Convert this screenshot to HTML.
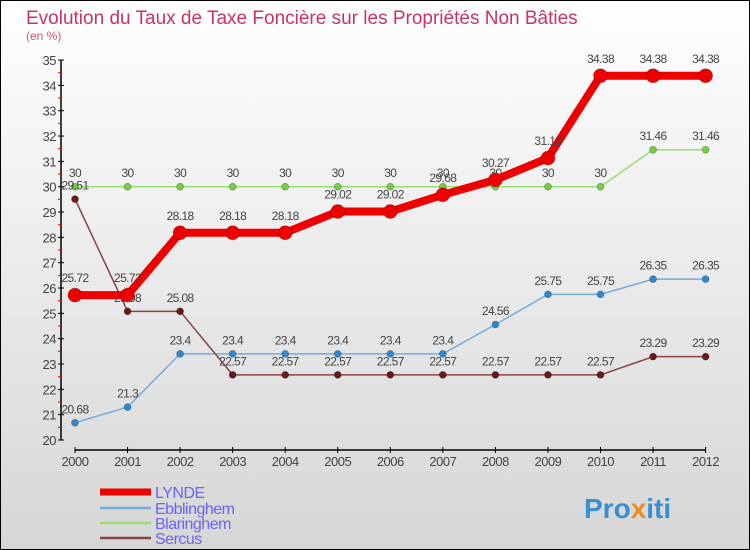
<!DOCTYPE html>
<html><head><meta charset="utf-8"><style>
html,body{margin:0;padding:0}
body{width:750px;height:550px;overflow:hidden;font-family:"Liberation Sans",sans-serif}
</style></head><body>
<svg id="chart" width="750" height="550" xmlns="http://www.w3.org/2000/svg" style="display:block">
<defs>
<linearGradient id="bg" x1="0" y1="0" x2="0" y2="1"><stop offset="0" stop-color="#ffffff"/><stop offset="1" stop-color="#d6d6d6"/></linearGradient>
</defs>
<rect x="0.5" y="0.5" width="749" height="549" fill="url(#bg)" stroke="#000"/>
<text x="26" y="24" font-size="19" fill="#c8336a">Evolution du Taux de Taxe Foncière sur les Propriétés Non Bâties</text>
<text x="26" y="40" font-size="12" fill="#d0557f">(en %)</text>
<g id="axes"></g>
<g id="series"></g>
<g id="legend"></g>
<text x="584" y="518" font-size="28" font-weight="bold" fill="#3a8fd0">Pro<tspan fill="#f08a1c">x</tspan>iti</text>
</svg>
<script>
const years = ["2000","2001","2002","2003","2004","2005","2006","2007","2008","2009","2010","2011","2012"];
const lynde = [25.72,25.72,28.18,28.18,28.18,29.02,29.02,29.68,30.27,31.13,34.38,34.38,34.38];
const ebblinghem = [20.68,21.3,23.4,23.4,23.4,23.4,23.4,23.4,24.56,25.75,25.75,26.35,26.35];
const blaringhem = [30,30,30,30,30,30,30,30,30,30,30,31.46,31.46];
const sercus = [29.51,25.08,25.08,22.57,22.57,22.57,22.57,22.57,22.57,22.57,22.57,23.29,23.29];
const yTicks = [20,21,22,23,24,25,26,27,28,29,30,31,32,33,34,35];
const NS="http://www.w3.org/2000/svg";
const xs = i => 75 + i*52.55;
const ys = v => 440 - (v-20)*25.33;
function el(tag, attrs, parent){const e=document.createElementNS(NS,tag);for(const k in attrs)e.setAttribute(k,attrs[k]);parent.appendChild(e);return e;}
const axes=document.getElementById('axes');
const ya=el('line',{x1:61,y1:ys(35),x2:61,y2:440,stroke:'#000','stroke-width':1.5},axes);


yTicks.forEach(v=>{
  const t=el('line',{x1:58,y1:ys(v),x2:64,y2:ys(v),stroke:'#000'},axes);
  
  
  const l=el('text',{x:56,y:ys(v)+5,'font-size':13,fill:'#444','text-anchor':'end','letter-spacing':'-0.5'},axes);
  l.textContent=v;
  
  
  if(v<35){const m=el('line',{x1:58,y1:ys(v+0.5),x2:61,y2:ys(v+0.5),stroke:'#e00'},axes);
  
  }
});
const xa=el('line',{x1:75,y1:450,x2:xs(12),y2:450,stroke:'#000','stroke-width':1.5},axes);


years.forEach((y,i)=>{
  const t=el('line',{x1:xs(i),y1:447,x2:xs(i),y2:453,stroke:'#000'},axes);
  
  
  const l=el('text',{x:xs(i),y:466,'font-size':13,fill:'#444','text-anchor':'middle','letter-spacing':'-0.5'},axes);
  l.textContent=y;
  
  
});
const series=[
 {name:'blaringhem',data:blaringhem,color:'#99dd77',dot:'#77cc44',w:1.5,r:3.5},
 {name:'ebblinghem',data:ebblinghem,color:'#77aadd',dot:'#3388cc',w:1.5,r:3.5},
 {name:'sercus',data:sercus,color:'#884444',dot:'#661a1a',w:1.5,r:3.5},
 {name:'lynde',data:lynde,color:'#ee0000',dot:'#ee0000',w:8,r:7}
];
const sg=document.getElementById('series');
series.forEach(s=>{
  const g=el('g',{},sg);
  
  
  const p=el('polyline',{points:s.data.map((v,i)=>xs(i)+','+ys(v)).join(' '),fill:'none',stroke:s.color,'stroke-width':s.w,'stroke-linejoin':'round'},g);
  
  
  s.data.forEach((v,i)=>{
    const c=el('circle',{cx:xs(i),cy:ys(v),r:s.r,fill:s.dot,stroke:'rgba(0,0,0,0.25)','stroke-width':0.8},g);
    
    
    const t=el('text',{x:xs(i),y:ys(v)-(s.r+6),'font-size':12,fill:'#444','text-anchor':'middle','letter-spacing':'-0.6'},g);
    t.textContent=v;
    
    
  });
});
const lg=document.getElementById('legend');
const items=[['LYNDE','#ee0000',7,492],['Ebblinghem','#77aadd',2.5,508],['Blaringhem','#99dd77',2.5,523],['Sercus','#884444',2.5,538]];
items.forEach(it=>{
  const g=el('g',{},lg);
  
  
  el('line',{x1:100,y1:it[3],x2:151,y2:it[3],stroke:it[1],'stroke-width':it[2]},g);
  const t=el('text',{x:155,y:it[3]+6,'font-size':16,fill:'#6666ee','letter-spacing':'-0.5'},g);
  t.textContent=it[0];
});
</script>
</body></html>
